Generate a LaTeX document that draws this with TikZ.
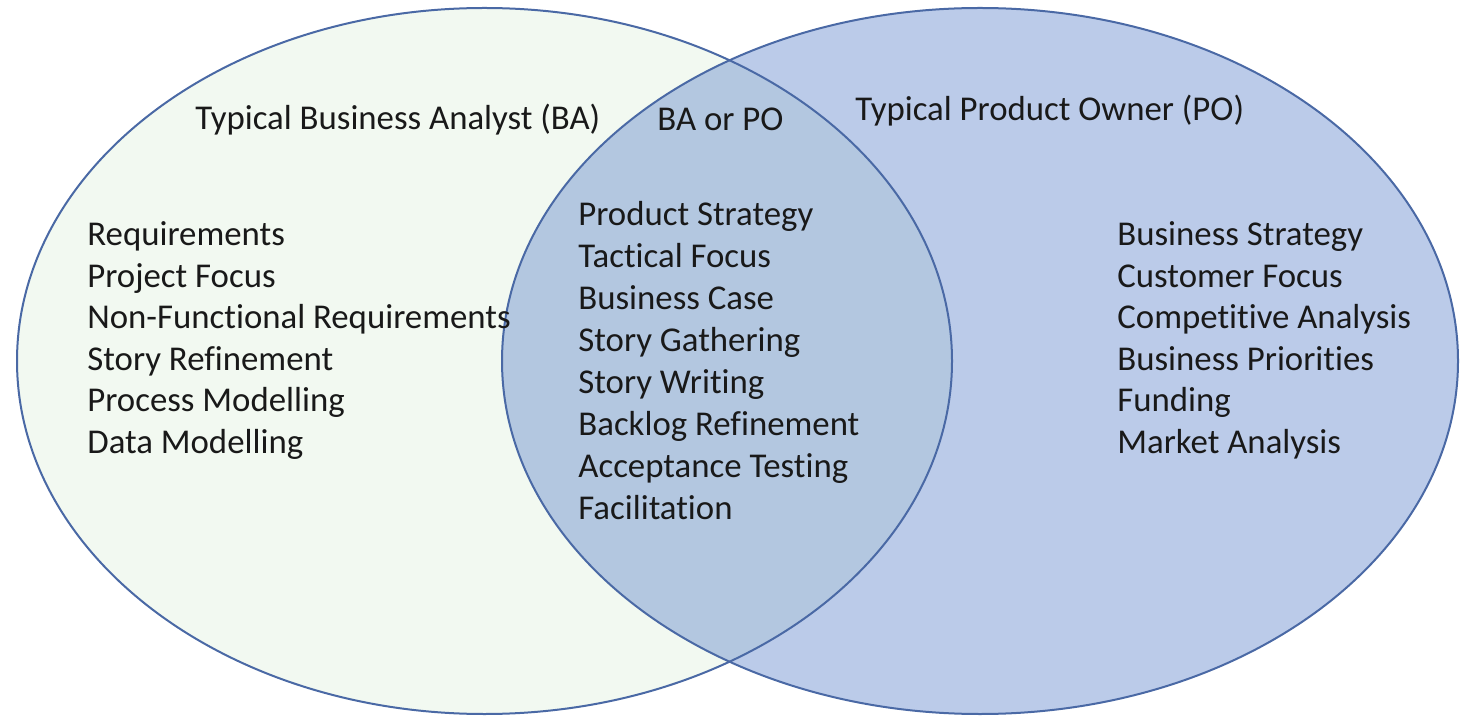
\documentclass[tikz,border=0pt]{standalone}
\usepackage{fontspec}
\setmainfont{Carlito}[Ligatures=NoCommon]
\definecolor{baFill}{HTML}{F2F9F1}
\definecolor{poFill}{HTML}{BBCBE9}
\definecolor{bothFill}{HTML}{B3C7E0}
\definecolor{rim}{HTML}{4A69A5}
\tikzset{item/.style={anchor=base west, inner sep=0pt, text=black!90, font=\fontsize{17.4}{21}\selectfont}}
\begin{document}
\begin{tikzpicture}[x=0.5pt, y=-0.5pt]
	 		\useasboundingbox (0,0) rectangle (1461,716);
	 		\coordinate (L) at (484.5,361);
	 		\coordinate (R) at (980,361);
	 		\fill[baFill] (L) ellipse [x radius=233.75pt, y radius=176.5pt];
	 		\fill[poFill] (R) ellipse [x radius=239pt, y radius=176.5pt];
	 		\begin{scope}
	 			\clip (L) ellipse [x radius=233.75pt, y radius=176.5pt];
	 			\fill[bothFill] (R) ellipse [x radius=239pt, y radius=176.5pt];
	 		\end{scope}
	 		\draw[rim, line width=1pt] (L) ellipse [x radius=233.75pt, y radius=176.5pt];
	 		\draw[rim, line width=1pt] (R) ellipse [x radius=239pt, y radius=176.5pt];
	 		\node[item] (ba) at (195,130) {Typical Business Analyst (BA)};
	 		\node[item] (both) at (657,131) {BA or PO};
	 		\node[item] (po) at (855,121) {Typical Product Owner (PO)};
	 		\foreach \t [count=\i] in {Requirements, Project Focus, Non-Functional Requirements, Story Refinement, Process Modelling, Data Modelling}
	 			\node[item] (ba\i) at (87,{246+41.5*(\i-1)}) {\t};
	 		\foreach \t [count=\i] in {Product Strategy, Tactical Focus, Business Case, Story Gathering, Story Writing, Backlog Refinement, Acceptance Testing, Facilitation}
	 			\node[item] (both\i) at (578,{226+41.9*(\i-1)}) {\t};
	 		\foreach \t [count=\i] in {Business Strategy, Customer Focus, Competitive Analysis, Business Priorities, Funding, Market Analysis}
	 			\node[item] (po\i) at (1117,{246+41.5*(\i-1)}) {\t};
	 	\end{tikzpicture}
\end{document}
